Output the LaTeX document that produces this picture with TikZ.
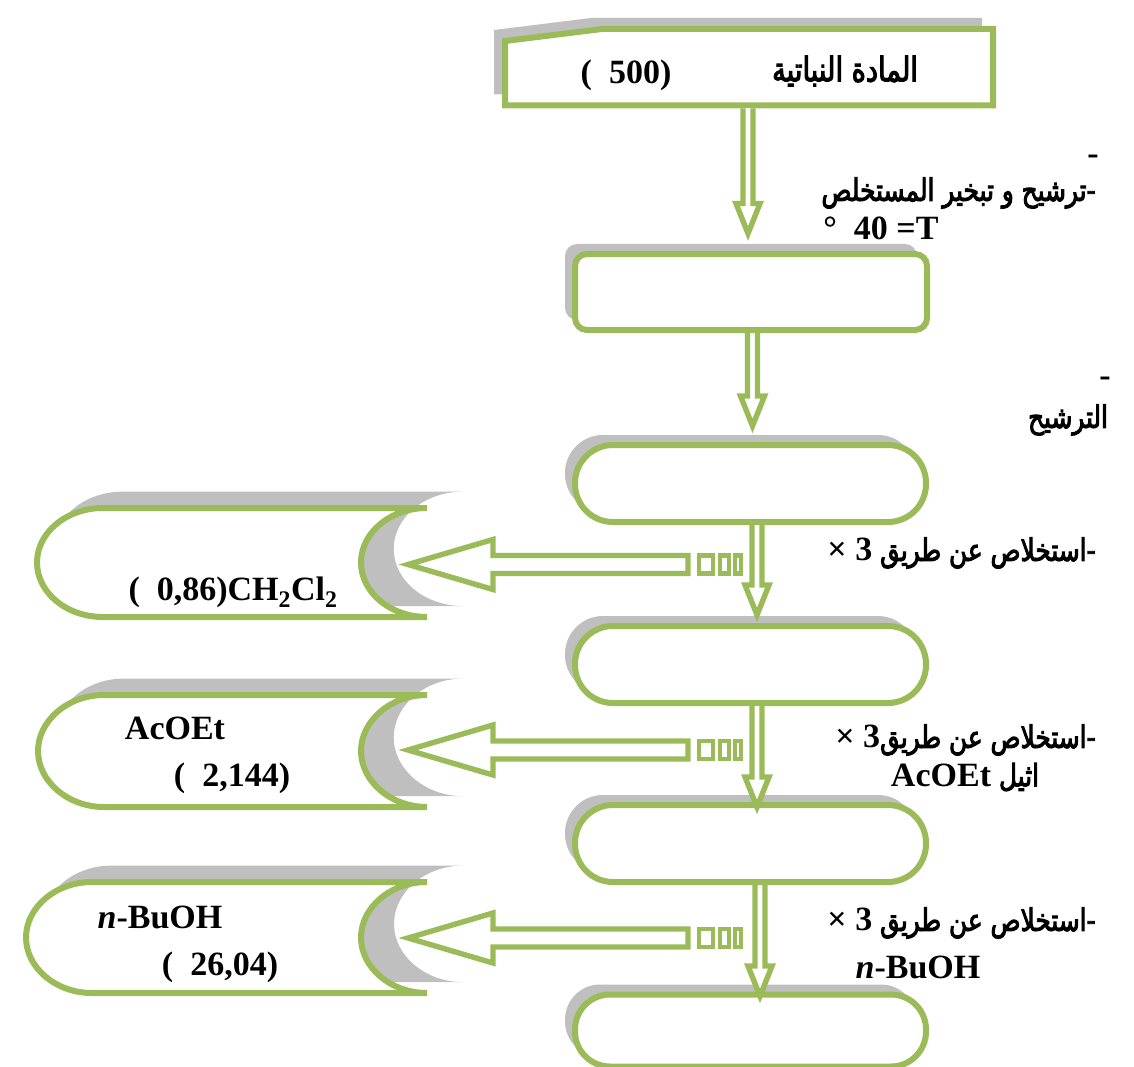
\documentclass[tikz,border=0pt]{standalone}
\usepackage{fontspec}
\setmainfont{Liberation Serif}
\newfontfamily\arabicfont[Script=Arabic,FakeBold=3,FakeStretch=0.8]{DejaVu Sans}
\TeXXeTstate=1
\usetikzlibrary{calc,shadows}
\definecolor{olive}{HTML}{9BBB59}
\definecolor{shade}{HTML}{BFBFBF}
\newcommand{\lat}[1]{{\fontsize{34}{40}\selectfont\rmfamily\bfseries #1}}

\begin{document}
\begin{tikzpicture}[x=1pt, y=-1pt, line join=miter,
  font=\fontsize{34}{40}\selectfont\bfseries,
  frame/.style={draw=olive, line width=6pt, fill=white},
  lift/.style={general shadow={shadow xshift=-10pt, shadow yshift=10pt, fill=shade}},
  lift left/.style={general shadow={shadow xshift=25pt, shadow yshift=13pt, shadow scale=1.05, fill=shade}},
  card/.style={frame, lift, minimum width=352pt, minimum height=76pt, rounded corners=12pt},
  pill/.style={frame, lift, minimum width=351pt, minimum height=77pt, rounded corners=38pt},
  slot/.style={inner sep=0pt, outer sep=0pt},
  hollow/.style={draw=olive, line width=5.4pt, fill=white},
  tail/.style={draw=olive, line width=4.2pt, fill=white},
  ar/.style={font=\fontsize{31}{36}\selectfont\arabicfont\mdseries},
]
\useasboundingbox (0,0) rectangle (1134,1067);

% labels beside the main column
\node (lab1dash) at (1093,160) {-};
\node[ar, anchor=east] (lab1a) at (1099,193) {\beginR ترشيح و تبخير المستخلص\endR-};
\node[anchor=east] (lab1b) at (942,228) {°\ \ 40 =T};
\node (lab2dash) at (1105,382) {-};
\node[ar] (lab2) at (1068,420) {\beginR الترشيح\endR};
\node[ar, anchor=east] (lab3) at (1099,553) {\lat{× 3} \beginR استخلاص عن طريق\endR-};
\node[ar, anchor=east] (lab4a) at (1099,740) {\lat{× 3}\beginR استخلاص عن طريق\endR-};
\node[ar] (lab4b) at (965,777) {\lat{AcOEt} \beginR اثيل\endR};
\node[ar, anchor=east] (lab5a) at (1099,923) {\lat{× 3} \beginR استخلاص عن طريق\endR-};
\node (lab5b) at (918,967) {\textit{n}-BuOH};

% top box with cut corner
\node[slot, minimum width=488pt, minimum height=76.5pt] (plant) at (749,67.25) {};
\draw[frame, general shadow={shadow xshift=-11pt, shadow yshift=11pt, fill=shade}]
  (plant.south west) -- ($(plant.north west)+(0,12)$) -- ($(plant.north west)+(97,0)$)
  -- (plant.north east) -- (plant.south east) -- cycle;
\node[ar, font=\fontsize{34}{40}\selectfont\arabicfont\mdseries] (plantname) at (845,71) {\beginR المادة النباتية\endR};
\node (plantmass) at (626,75) {(\ \ 500)};

% main column
\node[card] (crude) at (751,292) {};
\node[pill] (filtrate) at (750.5,483.5) {};
\node[pill] (aqA) at (750.5,664.5) {};
\node[pill] (aqB) at (750.5,843.5) {};
\node[pill, minimum height=72pt, rounded corners=35pt] (aqC) at (750.5,1030.5) {};

% side fractions
\node[slot, minimum width=390pt, minimum height=109pt] (dcm) at (232,562.5) {};
\node[slot, minimum width=389pt, minimum height=112pt] (ethyl) at (232.5,751) {};
\node[slot, minimum width=401pt, minimum height=111pt] (butanol) at (226.5,937.5) {};
\foreach \n in {dcm,ethyl,butanol}{
  \draw[frame, lift left]
    ($(\n.north west)+(66,0)$) -- (\n.north east)
    .. controls ($(\n.north east)+(-36.5,0)$) and ($(\n.east)+(-66,-30)$) .. ($(\n.east)+(-66,0)$)
    .. controls ($(\n.east)+(-66,30)$) and ($(\n.south east)+(-36.5,0)$) .. (\n.south east)
    -- ($(\n.south west)+(66,0)$)
    .. controls ($(\n.south west)+(29.5,0)$) and ($(\n.west)+(0,30)$) .. (\n.west)
    .. controls ($(\n.west)+(0,-30)$) and ($(\n.north west)+(29.5,0)$) .. cycle;
}
\node (dcmtext) at (233,592) {(\ \ 0,86)CH\textsubscript{2}Cl\textsubscript{2}};
\node (ethyltext) at (175,728) {AcOEt};
\node (ethylmass) at (232,778) {(\ \ 2,144)};
\node (butanoltext) at (160,917) {\textit{n}-BuOH};
\node (butanolmass) at (220,967) {(\ \ 26,04)};

% downward arrows
\foreach \src/\dst/\dx/\sy/\ty in {plant/crude/-1/3/-17.5, crude/filtrate/1.5/0/-16,
    filtrate/aqA/6.5/0/-8, aqA/aqB/6.5/0/5, aqB/aqC/9.5/0/4.5}{
  \coordinate (s) at ($(\src.south)+(\dx,\sy)$);
  \coordinate (t) at ($(\dst.north)+(0,\ty)$);
  \coordinate (e) at (s |- t);
  \draw[hollow] ($(s)+(-5,0)$) -- ($(e)+(-5,-30)$) -- ($(e)+(-12,-30)$) -- (e)
    -- ($(e)+(12,-30)$) -- ($(e)+(5,-30)$) -- ($(s)+(5,0)$);
}

% arrows to the side fractions
\foreach \n/\dy in {dcm/2, ethyl/-1, butanol/0.5}{
  \coordinate (tip) at ($(\n.east)+(-19,\dy)$);
  \draw[hollow] (tip) -- ++(85,-25) -- ++(0,16) -- ++(195,0) -- ++(0,18)
    -- ++(-195,0) -- ++(0,16) -- cycle;
  \draw[tail] ($(tip)+(291,-9)$) rectangle ++(14,18);
  \draw[tail] ($(tip)+(312,-9)$) rectangle ++(9,18);
  \draw[tail] ($(tip)+(327,-9)$) rectangle ++(6,18);
}
\end{tikzpicture}
\end{document}
